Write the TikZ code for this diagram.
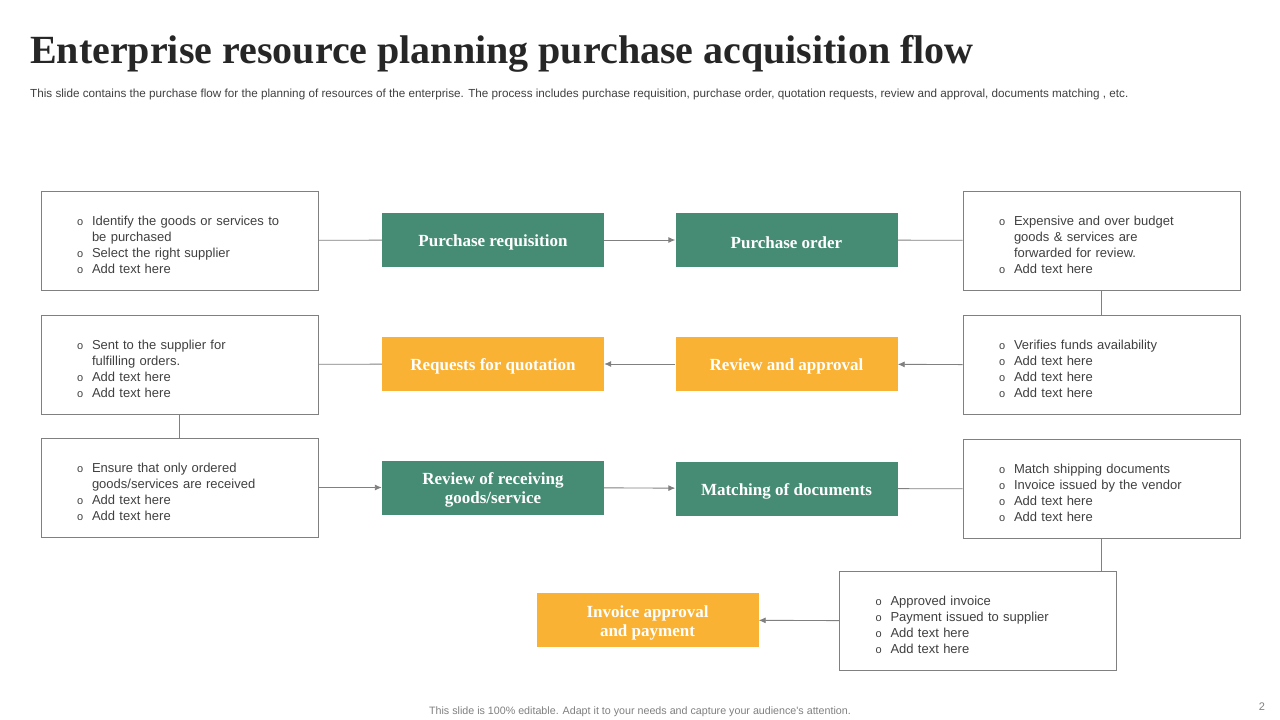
\documentclass[tikz,border=0pt]{standalone}
\usepackage{fontspec}
\setmainfont{Liberation Serif}
\newfontfamily\bodyfont{Liberation Sans}
\usetikzlibrary{arrows.meta}

\definecolor{stepgreen}{RGB}{70,140,116}
\definecolor{steporange}{RGB}{250,178,52}
\definecolor{linegray}{RGB}{128,128,128}
\definecolor{textgray}{RGB}{64,64,64}
\definecolor{titlegray}{RGB}{38,38,38}

\newcommand{\bul}{{\fontsize{11}{11}\selectfont o}}

\tikzset{
  steplabel/.style={text=white, align=center, yshift=-2.5pt,
    font=\bfseries\fontsize{17}{19}\selectfont},
  stepbox/.style={minimum width=222pt, minimum height=54pt, inner sep=0pt,
    label={[steplabel]center:{#1}}},
  notebox/.style={draw=linegray, line width=0.8pt, minimum width=277pt,
    minimum height=99pt, inner xsep=36pt, text width=205pt, align=left,
    text height=10pt, text depth=41pt,
    text=textgray, font=\bodyfont\fontsize{13}{16}\selectfont},
  link/.style={draw=linegray, line width=0.9pt},
  flow/.style={link, -{Latex[length=7pt,width=6pt]}}
}

\begin{document}
\begin{tikzpicture}[x=1pt,y=-1pt]
   \useasboundingbox[fill=white] (0,0) rectangle (1280,720);

   \node[anchor=base west, inner sep=0pt, text=titlegray,
         font=\bfseries\fontsize{40}{42}\selectfont] (title) at (30,63)
         {Enterprise resource planning purchase acquisition flow};
   \node[anchor=base west, inner sep=0pt, text=textgray,
         font=\bodyfont\fontsize{11.7}{13}\selectfont] (desc) at (30,97)
         {This slide contains the purchase flow  for the planning of resources of the enterprise. The process includes purchase requisition, purchase order, quotation requests, review and approval,  documents matching , etc.};

   % steps
   \node[stepbox={Purchase requisition}, fill=stepgreen]  (PR) at (493,240) {};
   \node[stepbox={Purchase order}, fill=stepgreen]  (PO) at (786.5,240) {};
   \node[stepbox={Requests for quotation}, fill=steporange] (RQ) at (493,364) {};
   \node[stepbox={Review and approval}, fill=steporange] (RA) at (786.5,364) {};
   \node[stepbox={Review of receiving\\goods/service}, fill=stepgreen]  (RR) at (493,487.5) {};
   \node[stepbox={Matching of documents}, fill=stepgreen]  (MD) at (786.5,488.5) {};
   \node[stepbox={Invoice approval\\and payment}, fill=steporange] (IA) at (647.5,620) {};

   % notes
   \node[notebox] (L1) at (179.5,240.5) {%
     \begin{tabular}[t]{@{}p{15pt}@{}l@{}}
       \bul & Identify the goods or services  to\\
            & be purchased\\
       \bul & Select the right  supplier\\
       \bul & Add text here
     \end{tabular}};
   \node[notebox] (L2) at (179.5,364.5) {%
     \begin{tabular}[t]{@{}p{15pt}@{}l@{}}
       \bul & Sent to the supplier  for\\
            & fulfilling  orders.\\
       \bul & Add text here\\
       \bul & Add text here
     \end{tabular}};
   \node[notebox] (L3) at (179.5,487.5) {%
     \begin{tabular}[t]{@{}p{15pt}@{}l@{}}
       \bul & Ensure that  only ordered\\
            & goods/services  are received\\
       \bul & Add text here\\
       \bul & Add text here
     \end{tabular}};
   \node[notebox] (R1) at (1101.5,240.5) {%
     \begin{tabular}[t]{@{}p{15pt}@{}l@{}}
       \bul & Expensive  and over  budget\\
            & goods \& services  are\\
            & forwarded  for review.\\
       \bul & Add text here
     \end{tabular}};
   \node[notebox] (R2) at (1101.5,365) {%
     \begin{tabular}[t]{@{}p{15pt}@{}l@{}}
       \bul & Verifies funds  availability\\
       \bul & Add text here\\
       \bul & Add text here\\
       \bul & Add text here
     \end{tabular}};
   \node[notebox] (R3) at (1101.5,489) {%
     \begin{tabular}[t]{@{}p{15pt}@{}l@{}}
       \bul & Match shipping documents\\
       \bul & Invoice  issued by the vendor\\
       \bul & Add text here\\
       \bul & Add text here
     \end{tabular}};
   \node[notebox] (B) at (978,621) {%
     \begin{tabular}[t]{@{}p{15pt}@{}l@{}}
       \bul & Approved  invoice\\
       \bul & Payment issued to supplier\\
       \bul & Add text here\\
       \bul & Add text here
     \end{tabular}};

   % connectors
   \foreach \a/\b in {L1/PR, PO/R1, RQ/L2, MD/R3, R1/R2, L2/L3}
      \draw[link] (\a) -- (\b);
   \draw[link] (R3.south) -- (R3.south |- B.north);
   \foreach \a/\b in {PR/PO, R2/RA, RA/RQ, L3/RR, RR/MD, B/IA}
      \draw[flow] (\a) -- (\b);

   \node[anchor=base, inner sep=0pt, text=linegray,
         font=\bodyfont\fontsize{10.7}{12}\selectfont] (foot) at (640,714)
         {This slide is 100\% editable.  Adapt it to your needs and capture your audience's attention.};
   \node[anchor=base, inner sep=0pt, text=linegray,
         font=\bodyfont\fontsize{11}{13}\selectfont] (page) at (1262,710) {2};
\end{tikzpicture}
\end{document}
